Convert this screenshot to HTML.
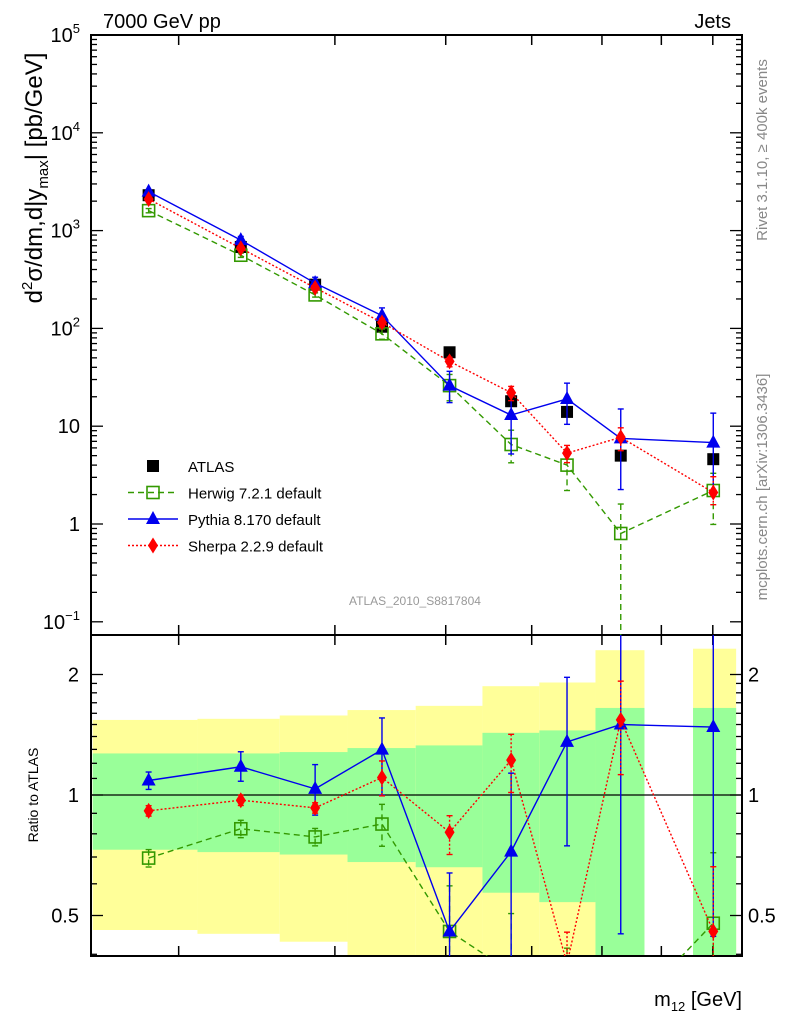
<!DOCTYPE html>
<html><head><meta charset="utf-8"><style>
html,body{margin:0;padding:0;background:#fff;width:786px;height:1024px;overflow:hidden}
svg{display:block;font-family:"Liberation Sans",sans-serif}
</style></head><body>
<svg id="c" width="786" height="1024" viewBox="0 0 786 1024" xmlns="http://www.w3.org/2000/svg">
<defs>
<clipPath id="clipMain"><rect x="91" y="35" width="651" height="600"/></clipPath>
<clipPath id="clipRatio"><rect x="91" y="635" width="651" height="321"/></clipPath>
</defs>
<g id="bands" clip-path="url(#clipRatio)"></g>
<g id="axes"></g>
<g id="series-main" clip-path="url(#clipMain)"></g>
<g id="series-ratio" clip-path="url(#clipRatio)"></g>
<g id="labels">
<text x="103" y="28" font-size="20">7000 GeV pp</text>
<text x="731" y="28" font-size="20" text-anchor="end">Jets</text>
<text x="415" y="605" font-size="12" fill="#999" text-anchor="middle">ATLAS_2010_S8817804</text>
<text transform="translate(767,150) rotate(-90)" font-size="15" fill="#888" text-anchor="middle">Rivet 3.1.10, ≥ 400k events</text>
<text transform="translate(767,487) rotate(-90)" font-size="15" fill="#888" text-anchor="middle">mcplots.cern.ch [arXiv:1306.3436]</text>
<text transform="translate(42,178) rotate(-90)" font-size="24" text-anchor="middle">d<tspan font-size="15" dy="-10">2</tspan><tspan dy="10">σ/dm,d|y</tspan><tspan font-size="15" dy="6">max</tspan><tspan dy="-6">| [pb/GeV]</tspan></text>
<text transform="translate(38,795) rotate(-90)" font-size="14" text-anchor="middle">Ratio to ATLAS</text>
<text x="742" y="1006" font-size="20" text-anchor="end">m<tspan font-size="13" dy="5">12</tspan><tspan dy="-5"> [GeV]</tspan></text>
</g>
</svg>
<script>
// ---- data ----
const binLo = [160,210,260,310,370,440,510,590,760];
const binHi = [210,260,310,370,440,510,590,670,850];
const binMid = [185,235,285,339,404,474,548,630,801];
const atlas = [2300,680,280,104,57,18,14,5,4.6];
const herwig = [1600,560,220,88,26,6.5,4.0,0.8,2.2];
const pythia = [2500,800,290,135,26,13,19,7.5,6.8];
const sherpa = [2100,660,260,115,46,22,5.3,7.7,2.1];
const herwigErrUp = [0.05,0.05,0.05,0.12,0.3,0.4,0.45,1.0,0.5];
const herwigErrDn = [0.05,0.05,0.05,0.12,0.3,0.35,0.45,1.0,0.55];
const pythiaErrUp = [0.05,0.09,0.15,0.2,0.4,0.57,0.45,1.0,1.0];
const pythiaErrDn = [0.05,0.08,0.14,0.23,0.33,0.6,0.45,0.7,0.7];
const sherpaErrUp = [0.03,0.03,0.03,0.1,0.1,0.16,0.2,0.25,0.45];
const sherpaErrDn = [0.03,0.03,0.03,0.1,0.12,0.17,0.2,0.27,0.25];
const bandYellowHi = [1.54,1.55,1.58,1.63,1.67,1.87,1.91,2.3,2.32];
const bandYellowLo = [0.46,0.45,0.43,0.3,0.3,0.3,0.3,0.3,0.3];
const bandGreenHi = [1.27,1.27,1.28,1.31,1.33,1.43,1.45,1.65,1.65];
const bandGreenLo = [0.73,0.72,0.71,0.68,0.66,0.57,0.54,0.3,0.3];
const yTickExp = [-1,0,1,2,3,4,5];
const rTicks = [0.5,1,2];
const xTicks = [200,300,400,500,600,700,800];

// ---- axes functions ----
const X0=91,X1=742, XMIN=159.3, XMAX=863;
const sx = m => X0 + (X1-X0)*(Math.log10(m/XMIN))/Math.log10(XMAX/XMIN);
const MY0=35, DEC=97.8;
const sy = v => MY0 + (5-Math.log10(v))*DEC;
const RY1=795, RF=120.5;
const sr = r => RY1 - RF*Math.log2(r);
const clamp=(y,a,b)=>Math.min(b,Math.max(a,y));

const NS="http://www.w3.org/2000/svg";
function mk(tag, attrs, parent){const e=document.createElementNS(NS,tag);for(const k in attrs)e.setAttribute(k,attrs[k]);parent.appendChild(e);return e;}
const g=id=>document.getElementById(id);

// bands
for(let i=0;i<binLo.length;i++){
  const x=sx(binLo[i]), w=sx(binHi[i])-x;
  const yh=clamp(sr(bandYellowHi[i]),635,956), yl=clamp(sr(bandYellowLo[i]),635,956);
  let r=mk('rect',{x:x,y:yh,width:w,height:yl-yh,fill:'#ffff99'},g('bands'));
  
  
  const gh=clamp(sr(bandGreenHi[i]),635,956), gl=clamp(sr(bandGreenLo[i]),635,956);
  r=mk('rect',{x:x,y:gh,width:w,height:gl-gh,fill:'#99ff99'},g('bands'));
  
  
}

// axes
const ax=g('axes');
mk('line',{x1:X0,y1:sr(1),x2:X1,y2:sr(1),stroke:'#000','stroke-width':1.3},ax);
let fr=mk('rect',{x:X0,y:35,width:X1-X0,height:600,fill:'none',stroke:'#000','stroke-width':2},ax);

fr=mk('rect',{x:X0,y:635,width:X1-X0,height:321,fill:'none',stroke:'#000','stroke-width':2},ax);

xTicks.forEach(m=>{const x=sx(m);
  [[35,45],[625,635],[635,645],[946,956]].forEach(p=>mk('line',{x1:x,y1:p[0],x2:x,y2:p[1],stroke:'#000','stroke-width':1.5},ax));});
yTickExp.forEach(e=>{
  for(let k=1;k<10;k++){const v=k*Math.pow(10,e);const y=sy(v);if(y<35||y>635)continue;const L=k==1?12:6;
    mk('line',{x1:X0,y1:y,x2:X0+L,y2:y,stroke:'#000','stroke-width':1.3},ax);
    mk('line',{x1:X1-L,y1:y,x2:X1,y2:y,stroke:'#000','stroke-width':1.3},ax);}
  const t=mk('text',{x:80,y:sy(Math.pow(10,e))+7,'font-size':20,'text-anchor':'end'},ax);
  
  
  if(e==1)t.textContent='10';else if(e==0)t.textContent='1';else{
    t.textContent='10';const s=mk('tspan',{'font-size':13,dy:-9},t);s.textContent=e<0?'−1':String(e);}
});
for(let r=0.4;r<=2.5;r+= (r<2?0.1:0.5)){r=Math.round(r*10)/10;const y=sr(r);if(y<636||y>955)continue;
  const L=(r==0.5||r==1||r==2)?12:6;
  mk('line',{x1:X0,y1:y,x2:X0+L,y2:y,stroke:'#000','stroke-width':1.3},ax);
  mk('line',{x1:X1-L,y1:y,x2:X1,y2:y,stroke:'#000','stroke-width':1.3},ax);}
rTicks.forEach(r=>{
  let t=mk('text',{x:79,y:sr(r)+7,'font-size':20,'text-anchor':'end'},ax);t.textContent=String(r);
  
  
  t=mk('text',{x:748,y:sr(r)+7,'font-size':20},ax);t.textContent=String(r);
  
  
});

function drawMarker(grp,marker,x,y,color){
  let m;
  if(marker=='sq') m=mk('rect',{x:x-6,y:y-6,width:12,height:12,fill:'#fff','fill-opacity':0,stroke:color,'stroke-width':1.6},grp);
  else if(marker=='tri') m=mk('polygon',{points:`${x},${y-8} ${x-7},${y+5} ${x+7},${y+5}`,fill:color},grp);
  else if(marker=='dia') m=mk('polygon',{points:`${x},${y-8} ${x-5},${y} ${x},${y+8} ${x+5},${y}`,fill:color},grp);
  else m=mk('rect',{x:x-6,y:y-6,width:12,height:12,fill:color},grp);
  
  
}
function series(vals,up,dn,color,dash,marker,name){
  ['main','ratio'].forEach(panel=>{
    const par=g('series-'+panel);
    const grp=mk('g',{},par);
    
    
    const lo=panel=='main'?30:630, hi=panel=='main'?640:960;
    const Y=(i,f)=>clamp(panel=='main'?sy(vals[i]*f):sr(vals[i]/atlas[i]*f),0,1020);
    const pts=vals.map((v,i)=>sx(binMid[i])+','+Y(i,1)).join(' ');
    const pl=mk('polyline',{points:pts,fill:'none',stroke:color,'stroke-width':1.4},grp);
    if(dash)pl.setAttribute('stroke-dasharray',dash);
    vals.forEach((v,i)=>{
      const x=sx(binMid[i]);
      const y1=clamp(Y(i,1+up[i]),lo,hi),y2=clamp(Y(i,Math.max(1-dn[i],0.01)),lo,hi);
      const eb=mk('line',{x1:x,y1:y1,x2:x,y2:y2,stroke:color,'stroke-width':1.4},grp);if(dash)eb.setAttribute('stroke-dasharray',dash);
      mk('line',{x1:x-3,y1:y1,x2:x+3,y2:y1,stroke:color,'stroke-width':1.4},grp);
      mk('line',{x1:x-3,y1:y2,x2:x+3,y2:y2,stroke:color,'stroke-width':1.4},grp);
      const ym=Y(i,1);
      if(ym>lo&&ym<hi)drawMarker(grp,marker,x,ym,color);
    });
  });
}
atlas.forEach((v,i)=>drawMarker(g('series-main'),'blk',sx(binMid[i]),sy(v),'#000'));
series(herwig,herwigErrUp,herwigErrDn,'#339900','6,4','sq','herwig');
series(pythia,pythiaErrUp,pythiaErrDn,'#0000ee',null,'tri','pythia');
series(sherpa,sherpaErrUp,sherpaErrDn,'#ff0000','2,2','dia','sherpa');

// legend
const lab=g('labels');
const leg=[['ATLAS','#000',null,'blk'],['Herwig 7.2.1 default','#339900','6,4','sq'],['Pythia 8.170 default','#0000ee',null,'tri'],['Sherpa 2.2.9 default','#ff0000','2,2','dia']];
leg.forEach((l,i)=>{const y=466+i*26.5;
  const lg=mk('g',{},lab);
  
  
  if(i>0){const ln=mk('line',{x1:128,y1:y,x2:178,y2:y,stroke:l[1],'stroke-width':1.4},lg);if(l[2])ln.setAttribute('stroke-dasharray',l[2]);}
  drawMarker(lg,l[3],153,y,l[1]);
  const t=mk('text',{x:188,y:y+6,'font-size':15},lg);t.textContent=l[0];
});
</script>
</body></html>
